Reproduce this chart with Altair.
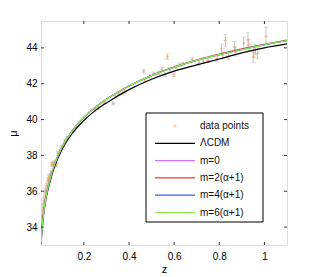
import altair as alt
import pandas as pd

# ---- data ----
z_curve = [0.01, 0.015, 0.02, 0.03, 0.04, 0.05, 0.07, 0.1, 0.15, 0.2, 0.25, 0.3,
           0.4, 0.5, 0.6, 0.7, 0.8, 0.9, 1.0, 1.1]
mu_lcdm = [33.05, 33.9, 34.55, 35.45, 36.05, 36.55, 37.38, 38.25, 39.25, 39.95, 40.5,
           40.93, 41.67, 42.25, 42.7, 43.05, 43.38, 43.72, 44.0, 44.22]
mu_m0 = [33.1, 34.0, 34.65, 35.55, 36.18, 36.68, 37.5, 38.38, 39.4, 40.12, 40.68,
         41.13, 41.87, 42.45, 42.92, 43.3, 43.62, 43.9, 44.17, 44.4]
mu_m2 = [33.1, 34.0, 34.65, 35.55, 36.18, 36.68, 37.5, 38.38, 39.4, 40.12, 40.68,
         41.13, 41.87, 42.46, 42.93, 43.32, 43.65, 43.94, 44.2, 44.44]
mu_m4 = [33.1, 34.0, 34.65, 35.55, 36.18, 36.68, 37.5, 38.38, 39.4, 40.12, 40.68,
         41.13, 41.87, 42.45, 42.92, 43.3, 43.62, 43.91, 44.18, 44.41]
mu_m6 = [33.1, 34.0, 34.65, 35.55, 36.18, 36.68, 37.5, 38.38, 39.4, 40.12, 40.68,
         41.13, 41.87, 42.45, 42.92, 43.3, 43.62, 43.9, 44.17, 44.4]

z_pts = [0.012, 0.014, 0.015, 0.016, 0.018, 0.02, 0.022, 0.024, 0.026, 0.028, 0.03,
         0.033, 0.036, 0.04, 0.043, 0.047, 0.05, 0.053, 0.057, 0.062, 0.068, 0.074,
         0.078, 0.085, 0.093, 0.1, 0.115, 0.125, 0.25, 0.265, 0.29, 0.33, 0.34, 0.355,
         0.37, 0.38, 0.465, 0.47, 0.49, 0.51, 0.53, 0.545, 0.56, 0.57, 0.58, 0.6, 0.61,
         0.625, 0.64, 0.68, 0.71, 0.73, 0.75, 0.79, 0.81, 0.815, 0.827, 0.84, 0.867,
         0.87, 0.908, 0.927, 0.93, 0.95, 0.953, 0.96, 0.97, 1.007]
mu_pts = [34.0, 34.4, 34.6, 34.3, 34.9, 35.1, 35.3, 35.6, 35.5, 35.9, 36.0,
          36.2, 36.3, 36.6, 36.75, 36.8, 36.65, 37.0, 37.5, 37.55, 37.6, 37.45,
          37.5, 38.1, 38.2, 38.45, 38.8, 38.95, 40.55, 40.65, 40.95, 40.9, 41.25, 41.4,
          41.45, 41.55, 42.7, 42.2, 42.4, 42.55, 42.6, 42.8, 42.5, 43.5, 42.8, 42.5, 42.95,
          43.05, 43.1, 43.35, 43.15, 43.25, 43.3, 43.4, 43.95, 43.6, 44.4, 43.55, 44.05,
          43.8, 44.25, 44.45, 44.2, 43.5, 43.75, 43.9, 43.7, 44.65]
err_pts = [0.15, 0.15, 0.15, 0.15, 0.15, 0.15, 0.15, 0.15, 0.15, 0.15, 0.15,
           0.15, 0.15, 0.15, 0.15, 0.15, 0.15, 0.15, 0.12, 0.12, 0.12, 0.12,
           0.12, 0.12, 0.12, 0.12, 0.1, 0.1, 0.08, 0.08, 0.08, 0.08, 0.08, 0.08,
           0.08, 0.08, 0.1, 0.1, 0.1, 0.1, 0.1, 0.1, 0.1, 0.15, 0.1, 0.1, 0.1,
           0.1, 0.1, 0.1, 0.12, 0.12, 0.12, 0.15, 0.25, 0.2, 0.35, 0.2, 0.3,
           0.25, 0.35, 0.4, 0.3, 0.3, 0.3, 0.3, 0.3, 0.5]

x_ticks = [0.2, 0.4, 0.6, 0.8, 1.0]
y_ticks = [34, 36, 38, 40, 42, 44]

labels = ["data points", "\u039bCDM", "m=0", "m=2(\u03b1+1)", "m=4(\u03b1+1)", "m=6(\u03b1+1)"]
colors = ["#f5a35f", "#000000", "#cc77ff", "#ff3030", "#3060ff", "#88ee44"]

W, H = 246, 224
FONT = "Liberation Sans"

xs = alt.Scale(domain=[0.01, 1.1], nice=False, zero=False)
ys = alt.Scale(domain=[33, 45.5], nice=False, zero=False)

pts = pd.DataFrame({"z": z_pts, "mu": mu_pts, "e": err_pts})
pts["lo"] = pts["mu"] - pts["e"]
pts["hi"] = pts["mu"] + pts["e"]

base_pts = alt.Chart(pts)
x_enc = alt.X("z:Q", scale=xs, title="z",
              axis=alt.Axis(values=x_ticks, ticks=False, domain=False, grid=False,
                            labelPadding=6, titlePadding=2, format="~g",
                            titleFontWeight="normal"))
y_enc = alt.Y("lo:Q", scale=ys, title="\u03bc",
              axis=alt.Axis(values=y_ticks, ticks=False, domain=False, grid=False,
                            labelPadding=4, titlePadding=7, titleFontWeight="normal"))

err = base_pts.mark_rule(color="#c8c8c8", strokeWidth=1, clip=True).encode(
    x=x_enc, y=y_enc, y2="hi:Q")
cap_lo = base_pts.mark_tick(color="#c8c8c8", orient="horizontal", size=4, thickness=1,
                            clip=True).encode(x="z:Q", y="lo:Q")
cap_hi = base_pts.mark_tick(color="#c8c8c8", orient="horizontal", size=4, thickness=1,
                            clip=True).encode(x="z:Q", y="hi:Q")
plus = "M-1,0L1,0M0,-1L0,1"
dots = base_pts.mark_point(shape=plus, size=10, filled=False, strokeWidth=1,
                           color=colors[0], clip=True).encode(x="z:Q", y="mu:Q")

layers = [err, cap_lo, cap_hi, dots]
for lab, col, mu in zip(labels[1:], colors[1:], [mu_lcdm, mu_m0, mu_m2, mu_m4, mu_m6]):
    df = pd.DataFrame({"z": z_curve, "mu": mu})
    layers.append(alt.Chart(df).mark_line(color=col, strokeWidth=1.2, interpolate="monotone",
                                          clip=True).encode(x="z:Q", y="mu:Q"))

# inward ticks on all four sides
xt = alt.Chart(pd.DataFrame({"z": x_ticks}))
yt = alt.Chart(pd.DataFrame({"mu": y_ticks}))
tc = "#333333"
layers += [
    xt.mark_rule(color=tc).encode(x="z:Q", y=alt.value(H), y2=alt.value(H - 3)),
    xt.mark_rule(color=tc).encode(x="z:Q", y=alt.value(0), y2=alt.value(3)),
    yt.mark_rule(color=tc).encode(y="mu:Q", x=alt.value(0), x2=alt.value(3)),
    yt.mark_rule(color=tc).encode(y="mu:Q", x=alt.value(W), x2=alt.value(W - 3)),
]

# legend box
one = alt.Chart(pd.DataFrame({"a": [0]}))
layers.append(one.mark_rect(fill="white", stroke="black", strokeWidth=1).encode(
    x=alt.value(105), x2=alt.value(222), y=alt.value(92), y2=alt.value(201)))
row0, step = 105, 17.3
for i, (lab, col) in enumerate(zip(labels, colors)):
    yy = row0 + i * step
    if i == 0:
        layers.append(one.mark_point(shape=plus, size=10, filled=False, strokeWidth=1,
                                     color=col).encode(x=alt.value(134), y=alt.value(yy)))
    else:
        layers.append(one.mark_rule(color=col, strokeWidth=1.2).encode(
            x=alt.value(114), x2=alt.value(154), y=alt.value(yy)))
    layers.append(one.mark_text(text=lab, align="left", baseline="middle", font=FONT,
                                fontSize=10, color="#111111").encode(
        x=alt.value(159), y=alt.value(yy)))

chart = alt.layer(*layers).properties(
    width=W, height=H,
    autosize=alt.AutoSizeParams(type="none"),
    padding={"left": 33, "top": 13, "right": 21, "bottom": 32},
).configure_view(stroke="black", strokeWidth=1).configure_axis(
    labelFont=FONT, titleFont=FONT, labelFontSize=10, titleFontSize=11,
    labelColor="#222222", titleColor="#222222", titleFontWeight="normal"
).configure(background="white")

chart.save("out.html", embed_options={"renderer": "svg", "actions": False})
